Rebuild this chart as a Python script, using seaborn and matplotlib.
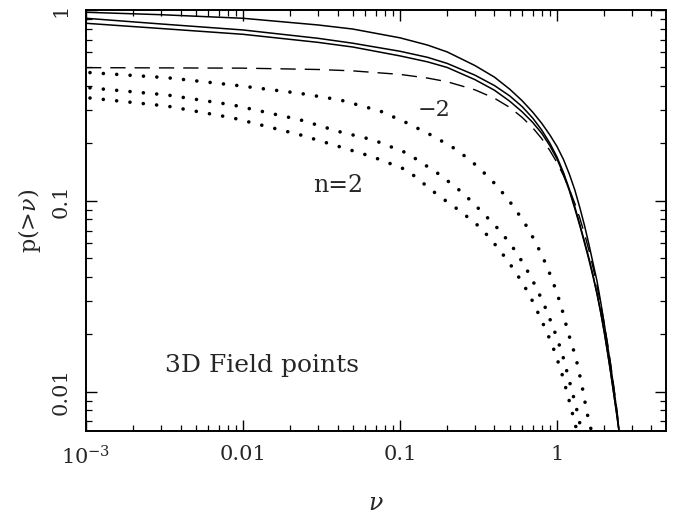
import numpy as np
import pandas as pd
import matplotlib
matplotlib.use("Agg")
import matplotlib.pyplot as plt
import seaborn as sns

# ---- data (nu, p(>nu)) ----
s_nu = [0.001, 0.003, 0.01, 0.03, 0.05, 0.1, 0.15, 0.2, 0.3, 0.4, 0.5, 0.6, 0.7, 0.8, 0.9,
        1.0, 1.1, 1.2, 1.3, 1.4, 1.5, 1.6, 1.7, 1.8, 1.9, 2.0, 2.1, 2.2, 2.3, 2.4, 2.48]
s1_p = [0.973, 0.945, 0.905, 0.835, 0.795, 0.715, 0.655, 0.603, 0.512, 0.445, 0.385, 0.335,
        0.292, 0.255, 0.222, 0.193, 0.165, 0.138, 0.114, 0.092, 0.074, 0.059, 0.047, 0.038,
        0.0295, 0.0228, 0.0176, 0.0137, 0.0105, 0.0081, 0.0064]
s2_p = [0.905, 0.845, 0.786, 0.711, 0.670, 0.608, 0.565, 0.525, 0.456, 0.402, 0.355, 0.312,
        0.272, 0.235, 0.201, 0.170, 0.141, 0.115, 0.093, 0.075, 0.061, 0.050, 0.0405, 0.0328,
        0.0262, 0.0207, 0.0162, 0.0126, 0.0098, 0.0077, 0.0063]
s3_p = [0.852, 0.800, 0.746, 0.677, 0.640, 0.575, 0.535, 0.500, 0.432, 0.380, 0.333, 0.293,
        0.258, 0.226, 0.195, 0.166, 0.138, 0.113, 0.091, 0.074, 0.060, 0.049, 0.0400, 0.0325,
        0.0260, 0.0206, 0.0161, 0.0126, 0.0098, 0.0077, 0.0063]

gauss_nu = [0.001, 0.01, 0.03, 0.05, 0.1, 0.15, 0.2, 0.3, 0.4, 0.5, 0.6, 0.7, 0.8, 0.9, 1.0,
            1.1, 1.2, 1.3, 1.4, 1.5, 1.6, 1.7, 1.8, 1.9, 2.0, 2.1, 2.2, 2.3, 2.4, 2.48]
gauss_p = [0.499, 0.496, 0.488, 0.480, 0.460, 0.440, 0.421, 0.382, 0.345, 0.309, 0.274, 0.242,
           0.212, 0.184, 0.159, 0.136, 0.115, 0.097, 0.081, 0.067, 0.055, 0.0446, 0.0359,
           0.0287, 0.0228, 0.0179, 0.0139, 0.0107, 0.0082, 0.0066]

d1_nu = [0.00106, 0.00328, 0.00863, 0.0231, 0.0415, 0.0746, 0.111, 0.162, 0.231, 0.314, 0.415,
         0.532, 0.664, 0.802, 0.929, 1.06, 1.175, 1.32, 1.44, 1.55, 1.62, 1.66]
d1_p = [0.470, 0.442, 0.405, 0.366, 0.338, 0.296, 0.256, 0.219, 0.185, 0.151, 0.120,
        0.093, 0.0705, 0.0521, 0.0391, 0.0285, 0.0206, 0.0151, 0.0109, 0.00785, 0.00672, 0.00624]

d2_nu = [0.00106, 0.00328, 0.00863, 0.0231, 0.0415, 0.0673, 0.111, 0.180, 0.252, 0.333, 0.440,
         0.556, 0.683, 0.815, 0.944, 1.077, 1.19, 1.32, 1.38, 1.43]
d2_p = [0.391, 0.359, 0.318, 0.266, 0.230, 0.209, 0.178, 0.137, 0.110, 0.0876, 0.0689,
        0.0534, 0.040, 0.0296, 0.0219, 0.0160, 0.0117, 0.00845, 0.00722, 0.00624]

d3_nu = [0.00106, 0.00328, 0.00863, 0.0231, 0.0415, 0.0673, 0.111, 0.175, 0.241, 0.328, 0.427,
         0.540, 0.664, 0.791, 0.929, 1.06, 1.175, 1.30, 1.34]
d3_p = [0.346, 0.314, 0.272, 0.222, 0.192, 0.170, 0.145, 0.107, 0.0887, 0.0722, 0.0560,
        0.0430, 0.0326, 0.0241, 0.0178, 0.0130, 0.00953, 0.00688, 0.00624]

x_ticks = [1e-3, 0.01, 0.1, 1]
x_ticklabels = ["$10^{-3}$", "0.01", "0.1", "1"]
y_ticks = [0.01, 0.1, 1]
y_ticklabels = ["0.01", "0.1", "1"]

sns.set_style("ticks")
plt.rcParams["font.family"] = ["DejaVu Serif", "DejaVu Sans"]
plt.rcParams["mathtext.fontset"] = "dejavuserif"

fig = plt.figure(figsize=(6.81, 5.16), dpi=100)
ax = fig.add_axes([86 / 681, 1 - 431 / 516, (666 - 86) / 681, (431 - 10) / 516])

def curve(nu, p, **kw):
    df = pd.DataFrame({"nu": nu, "p": p})
    sns.lineplot(data=df, x="nu", y="p", ax=ax, estimator=None, sort=False,
                 color="black", legend=False, **kw)

for p in (s1_p, s2_p, s3_p):
    curve(s_nu, p, linewidth=1.1)
curve(gauss_nu, gauss_p, linewidth=1.0, linestyle=(0, (11, 6.5)))
for nu, p in [(d1_nu, d1_p), (d2_nu, d2_p), (d3_nu, d3_p)]:
    curve(nu, p, linewidth=2.6, linestyle=(0, (0.01, 3.7)), dash_capstyle="round")

ax.set_xscale("log")
ax.set_yscale("log")
ax.set_xlim(1e-3, 4.95)
ax.set_ylim(0.00624, 1.0)

ax.set_xticks(x_ticks)
ax.set_xticklabels(x_ticklabels, fontsize=15)
ax.set_yticks(y_ticks)
ax.set_yticklabels(y_ticklabels, fontsize=15, rotation=90, va="center")

ax.tick_params(which="both", direction="in", top=True, right=True, color="black")
ax.tick_params(which="major", length=8, width=1.0)
ax.tick_params(axis="x", which="major", pad=10)
ax.tick_params(axis="y", which="major", pad=11)
ax.tick_params(which="minor", length=4.5, width=0.9)
for sp in ax.spines.values():
    sp.set_linewidth(1.4)
    sp.set_color("black")

ax.set_xlabel(r"$\nu$", fontsize=17, labelpad=17)
ax.set_ylabel(r"p(>$\nu$)", fontsize=16, labelpad=6)

ax.text(0.165, 0.299, "−2", fontsize=16, ha="center", va="center")
ax.text(0.0403, 0.120, "n=2", fontsize=17, ha="center", va="center")
ax.text(0.00318, 0.0137, "3D Field points", fontsize=18, ha="left", va="center")

fig.savefig("out.png", dpi=100)
